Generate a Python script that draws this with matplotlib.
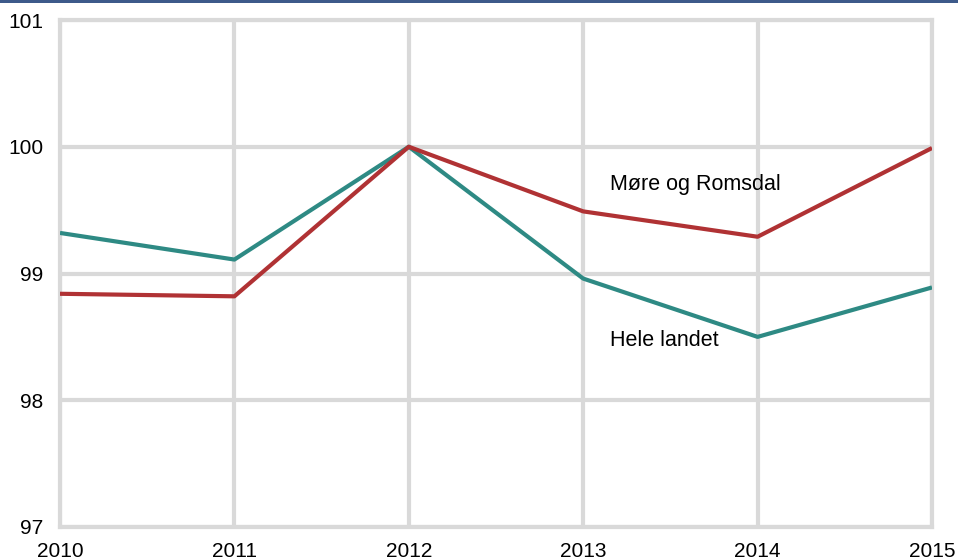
import matplotlib.pyplot as plt
from matplotlib.patches import Rectangle

plt.rcParams['font.family'] = ['Liberation Sans', 'DejaVu Sans']

years = [2010, 2011, 2012, 2013, 2014, 2015]
hele_landet = [99.32, 99.11, 100.0, 98.96, 98.50, 98.89]
more_romsdal = [98.84, 98.82, 100.0, 99.49, 99.29, 99.99]

fig = plt.figure(figsize=(9.58, 5.6), dpi=100)
ax = fig.add_axes([60/958, 33/560, 872/958, 507/560])

grid_c = '#d9d9d9'
ax.plot(years, hele_landet, color='#2e8a84', linewidth=3, solid_capstyle='butt', zorder=3)
ax.plot(years, more_romsdal, color='#b03234', linewidth=3, solid_capstyle='butt', zorder=3)

ax.set_xlim(2010, 2015)
ax.set_ylim(97, 101)
ax.set_xticks(years)
ax.set_yticks([97, 98, 99, 100, 101])
ax.grid(True, color=grid_c, linewidth=3, zorder=1)
for s in ax.spines.values():
    s.set_color(grid_c)
    s.set_linewidth(3)
ax.tick_params(length=0, labelsize=15, colors='black')
ax.tick_params(axis='y', pad=12)
ax.tick_params(axis='x', pad=11)
for lab in ax.get_xticklabels():
    lab.set_clip_on(False)

ax.text(2013.155, 99.7, 'Møre og Romsdal', fontsize=15.5, va='center', ha='left')
ax.text(2013.155, 98.47, 'Hele landet', fontsize=15.5, va='center', ha='left')

fig.add_artist(Rectangle((0, 1 - 3/560), 1, 3/560, transform=fig.transFigure,
                         color='#3d5a8a', linewidth=0))

fig.savefig('out.png', dpi=100)
